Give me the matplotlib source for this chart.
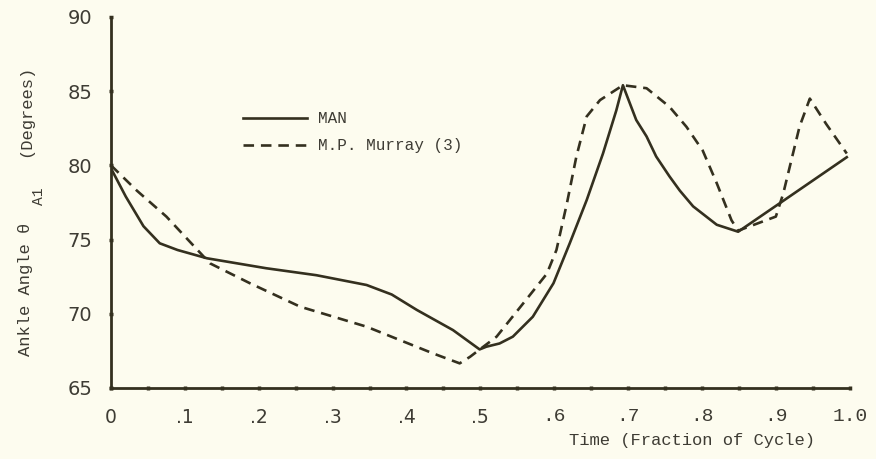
#!/usr/bin/env python
#------------------------------
# Ankle angle over one gait cycle: MAN model vs. M.P. Murray data

import numpy as np
import matplotlib
matplotlib.use('Agg')
import matplotlib.pyplot as plt
from matplotlib.ticker import MultipleLocator, FixedLocator

#------------------------------
# digitized curves (time as fraction of cycle, angle in degrees)

man_t = [0.0, 0.02, 0.044, 0.066, 0.09, 0.13, 0.21, 0.278, 0.346, 0.38, 0.414,
         0.463, 0.499, 0.508, 0.526, 0.544, 0.571, 0.599, 0.621, 0.644, 0.666,
         0.684, 0.693, 0.711, 0.725, 0.738, 0.756, 0.77, 0.788, 0.82, 0.849,
         0.905, 0.996]
man_a = [79.8, 77.9, 75.9, 74.75, 74.3, 73.74, 73.07, 72.6, 71.94, 71.3, 70.26,
         68.9, 67.6, 67.78, 68.0, 68.46, 69.8, 72.06, 74.75, 77.67, 80.8,
         83.7, 85.4, 83.06, 81.95, 80.6, 79.26, 78.3, 77.24, 76.0, 75.53,
         77.44, 80.55]

murray_t = [0.0, 0.035, 0.075, 0.134, 0.188, 0.256, 0.346, 0.436, 0.472, 0.486,
            0.522, 0.558, 0.59, 0.603, 0.617, 0.63, 0.644, 0.662, 0.693, 0.725,
            0.756, 0.779, 0.801, 0.82, 0.84, 0.849, 0.9, 0.91, 0.932, 0.946,
            0.968, 0.996]
murray_a = [80.0, 78.3, 76.55, 73.4, 72.06, 70.48, 69.13, 67.33, 66.66, 67.1,
            68.46, 70.7, 72.7, 74.3, 77.4, 80.6, 83.3, 84.4, 85.4, 85.2,
            83.95, 82.6, 81.0, 78.8, 76.3, 75.6, 76.55, 78.1, 82.6, 84.5,
            82.8, 80.8]

y_ticks = [65, 70, 75, 80, 85, 90]
x_ticks = [0.0, 0.1, 0.2, 0.3, 0.4, 0.5, 0.6, 0.7, 0.8, 0.9, 1.0]
x_tick_labels = ['0', '.1', '.2', '.3', '.4', '.5', '.6', '.7', '.8', '.9', '1.0']

#------------------------------

ink = '#34301f'
txt = '#3e3c34'
paper = '#fdfcef'
mono = 'Liberation Mono'
sans = 'DejaVu Sans'

fig = plt.figure(figsize=(8.76, 4.59), dpi=100, facecolor=paper)
ax = fig.add_axes([0.1267, 0.1547, 0.8433, 0.8083], facecolor=paper)

ax.plot(man_t, man_a, color=ink, lw=1.9, solid_joinstyle='round', label='MAN')
ax.plot(murray_t, murray_a, color=ink, lw=1.9, ls=(0, (4, 2.6)),
        label='M.P. Murray (3)')

ax.set_xlim(0, 1.0)
ax.set_ylim(65, 90)

for s in ('top', 'right'):
    ax.spines[s].set_visible(False)
for s in ('left', 'bottom'):
    ax.spines[s].set_linewidth(2.0)
    ax.spines[s].set_color(ink)

ax.xaxis.set_major_locator(FixedLocator(x_ticks))
ax.xaxis.set_minor_locator(MultipleLocator(0.05))
ax.set_xticklabels(x_tick_labels)
ax.yaxis.set_major_locator(FixedLocator(y_ticks))

ax.tick_params(which='both', direction='inout', length=3, width=2.5, color=ink)
ax.tick_params(axis='x', pad=13, labelsize=13.5, labelcolor=txt)
ax.tick_params(axis='y', pad=12, labelsize=14, labelcolor=txt)

for lab in ax.get_yticklabels():
    lab.set_family(sans)
for lab in ax.get_xticklabels():
    if lab.get_text() in ('.6', '.7', '.8', '.9', '1.0'):
        lab.set_family(mono)
        lab.set_fontsize(14)
    else:
        lab.set_family(sans)

# axis titles
fig.text(0.79, 0.04, 'Time (Fraction of Cycle)', family=mono, fontsize=12.3,
         color=txt, ha='center', va='center')
fig.text(0.029, 0.37, 'Ankle Angle \u03b8', family=mono, fontsize=12.3,
         color=txt, rotation=90, ha='center', va='center')
fig.text(0.044, 0.572, 'A1', family=mono, fontsize=10.5,
         color=txt, rotation=90, ha='center', va='center')
fig.text(0.029, 0.758, '(Degrees)', family=mono, fontsize=12.3,
         color=txt, rotation=90, ha='center', va='center')

leg = ax.legend(loc='upper left', bbox_to_anchor=(0.268, 0.775),
                bbox_transform=fig.transFigure, frameon=False,
                prop={'family': mono, 'size': 11.5}, handlelength=4.0,
                handletextpad=0.7, labelspacing=0.75, borderpad=0)
for t in leg.get_texts():
    t.set_color(txt)

fig.savefig('out.png', dpi=100, facecolor=paper)

#------------------------------
